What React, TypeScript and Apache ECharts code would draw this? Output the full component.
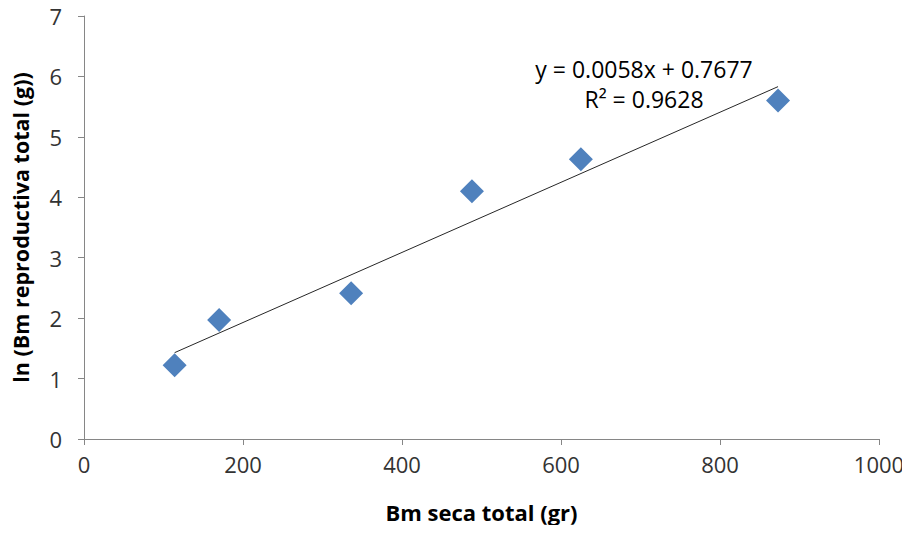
import React, { useEffect, useRef } from "react";
import * as echarts from "echarts";

const xValues = [114, 170, 336, 488, 625, 873];
const yValues = [1.22, 1.97, 2.41, 4.1, 4.63, 5.6];
const slope = 0.0058;
const intercept = 0.7677;
const equationLines = ["y = 0.0058x + 0.7677", "R² = 0.9628"];
const xAxisTitle = "Bm seca total (gr)";
const yAxisTitle = "ln (Bm reproductiva total (g))";

export default function App() {
  const ref = useRef<HTMLDivElement>(null);
  useEffect(() => {
    if (!ref.current) return;
    const chart = echarts.init(ref.current, undefined, { renderer: "svg" });
    const pts = xValues.map((x, i) => [x, yValues[i]]);
    const xMin = Math.min(...xValues);
    const xMax = Math.max(...xValues);
    const trend = [
      [xMin, slope * xMin + intercept],
      [xMax, slope * xMax + intercept],
    ];
    const font = "'Open Sans', 'Liberation Sans', sans-serif";
    chart.setOption({
      animation: false,
      backgroundColor: "#ffffff",
      textStyle: { fontFamily: font },
      grid: { left: 84, right: 31, top: 16, bottom: 94, containLabel: false },
      xAxis: {
        type: "value",
        min: 0,
        max: 1000,
        interval: 200,
        name: xAxisTitle,
        nameLocation: "middle",
        nameGap: 62,
        nameTextStyle: { fontSize: 22, fontWeight: "bold", color: "#000", fontFamily: font },
        axisLine: { show: true, lineStyle: { color: "#868686", width: 1 } },
        axisTick: { show: true, inside: false, length: 6, lineStyle: { color: "#868686" } },
        axisLabel: {
          fontSize: 22,
          color: "#333",
          margin: 14,
          fontFamily: font,
          formatter: (v: number) => String(v),
        },
        splitLine: { show: false },
      },
      yAxis: {
        type: "value",
        min: 0,
        max: 7,
        interval: 1,
        name: yAxisTitle,
        nameLocation: "middle",
        nameGap: 53,
        nameRotate: 90,
        nameTextStyle: { fontSize: 21.5, fontWeight: "bold", color: "#000", fontFamily: font },
        axisLine: { show: true, lineStyle: { color: "#868686", width: 1 } },
        axisTick: { show: true, inside: false, length: 6, lineStyle: { color: "#868686" } },
        axisLabel: { fontSize: 22, color: "#333", margin: 22, fontFamily: font },
        splitLine: { show: false },
      },
      series: [
        {
          type: "line",
          data: trend,
          symbol: "none",
          lineStyle: { color: "#262626", width: 1 },
          silent: true,
          z: 1,
        },
        {
          type: "scatter",
          data: pts,
          symbol: "diamond",
          symbolSize: [24, 24],
          itemStyle: { color: "#4F81BD", opacity: 1 },
          z: 2,
        },
      ],
      graphic: [
        {
          type: "text",
          x: 644,
          y: 54,
          style: {
            text: equationLines.join("\n"),
            fontSize: 23,
            lineHeight: 30,
            fill: "#000",
            align: "center",
            verticalAlign: "top",
            fontFamily: font,
          },
        },
      ],
    });
    return () => chart.dispose();
  }, []);
  return <div ref={ref} style={{ width: 910, height: 533, margin: -8 }} />;
}
